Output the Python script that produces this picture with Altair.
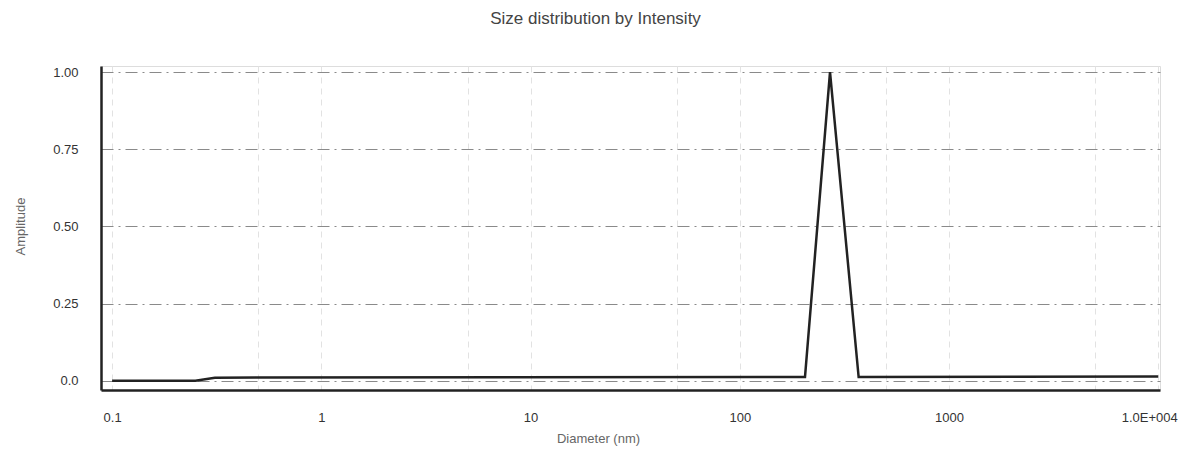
import altair as alt
import pandas as pd

# Data
diameter_nm = [0.1, 0.25, 0.31, 205, 270, 370, 10000]
amplitude = [0.0, 0.0, 0.010, 0.012, 1.0, 0.012, 0.014]

x_ticks = [0.1, 0.5, 1, 5, 10, 50, 100, 500, 1000, 5000, 10000]
y_ticks = [0, 0.25, 0.5, 0.75, 1.0]

df = pd.DataFrame({"d": diameter_nm, "a": amplitude})

x_label_expr = (
    "datum.value == 0.1 ? '0.1' : datum.value == 1 ? '1' : datum.value == 10 ? '10' : "
    "datum.value == 100 ? '100' : datum.value == 1000 ? '1000' : "
    "datum.value == 10000 ? '1.0E+004' : ''"
)
y_label_expr = (
    "datum.value == 0 ? '0.0' : datum.value == 0.25 ? '0.25' : datum.value == 0.5 ? '0.50' : "
    "datum.value == 0.75 ? '0.75' : '1.00'"
)

font = "Liberation Sans"

x_enc = alt.X(
    "d:Q",
    scale=alt.Scale(type="log", domain=[0.0885, 10200], nice=False),
    axis=alt.Axis(
        values=x_ticks, labelExpr=x_label_expr, title="Diameter (nm)",
        grid=True, gridColor="#e2e2e2", gridDash=[6, 5], gridWidth=1,
        ticks=False, labelPadding=21, labelFontSize=13, labelColor="#333333",
        labelOffset={"expr": "datum.value == 10000 ? -9 : 0"},
        labelFont=font, titleFont=font, titleFontSize=13, titleFontWeight="normal",
        titleColor="#666666", titleX=497, titleY=48, titleBaseline="middle",
        titleAnchor="middle", domainColor="#222222", domainWidth=2.5, labelFlush=False,
    ),
)
y_enc = alt.Y(
    "a:Q",
    scale=alt.Scale(domain=[-0.03, 1.02], nice=False, zero=False),
    axis=alt.Axis(
        values=y_ticks, labelExpr=y_label_expr, title="Amplitude",
        grid=True, gridColor="#8a8a8a", gridDash=[12, 5, 2, 5], gridWidth=1,
        ticks=False, labelPadding=23, labelFontSize=13, labelColor="#333333",
        labelFont=font, titleFont=font, titleFontSize=13, titleFontWeight="normal",
        titleColor="#666666", titleX=-81, titleY=160, titleAngle=-90,
        titleBaseline="middle", domainColor="#222222", domainWidth=2.5,
    ),
)

chart = (
    alt.Chart(df)
    .mark_line(color="#222222", strokeWidth=2.5)
    .encode(x=x_enc, y=y_enc)
    .properties(
        width=1059,
        height=324,
        autosize=alt.AutoSizeParams(type="none"),
        padding={"left": 93, "top": 58, "right": 21, "bottom": 56},
        title=alt.TitleParams(
            "Size distribution by Intensity", font=font, fontSize=17,
            fontWeight="normal", color="#444444", anchor="middle", dx=-35, offset=38,
        ),
    )
    .configure_view(stroke=None)
    .configure(background="white")
)

chart.save("out.html", embed_options={"renderer": "svg", "actions": False})
